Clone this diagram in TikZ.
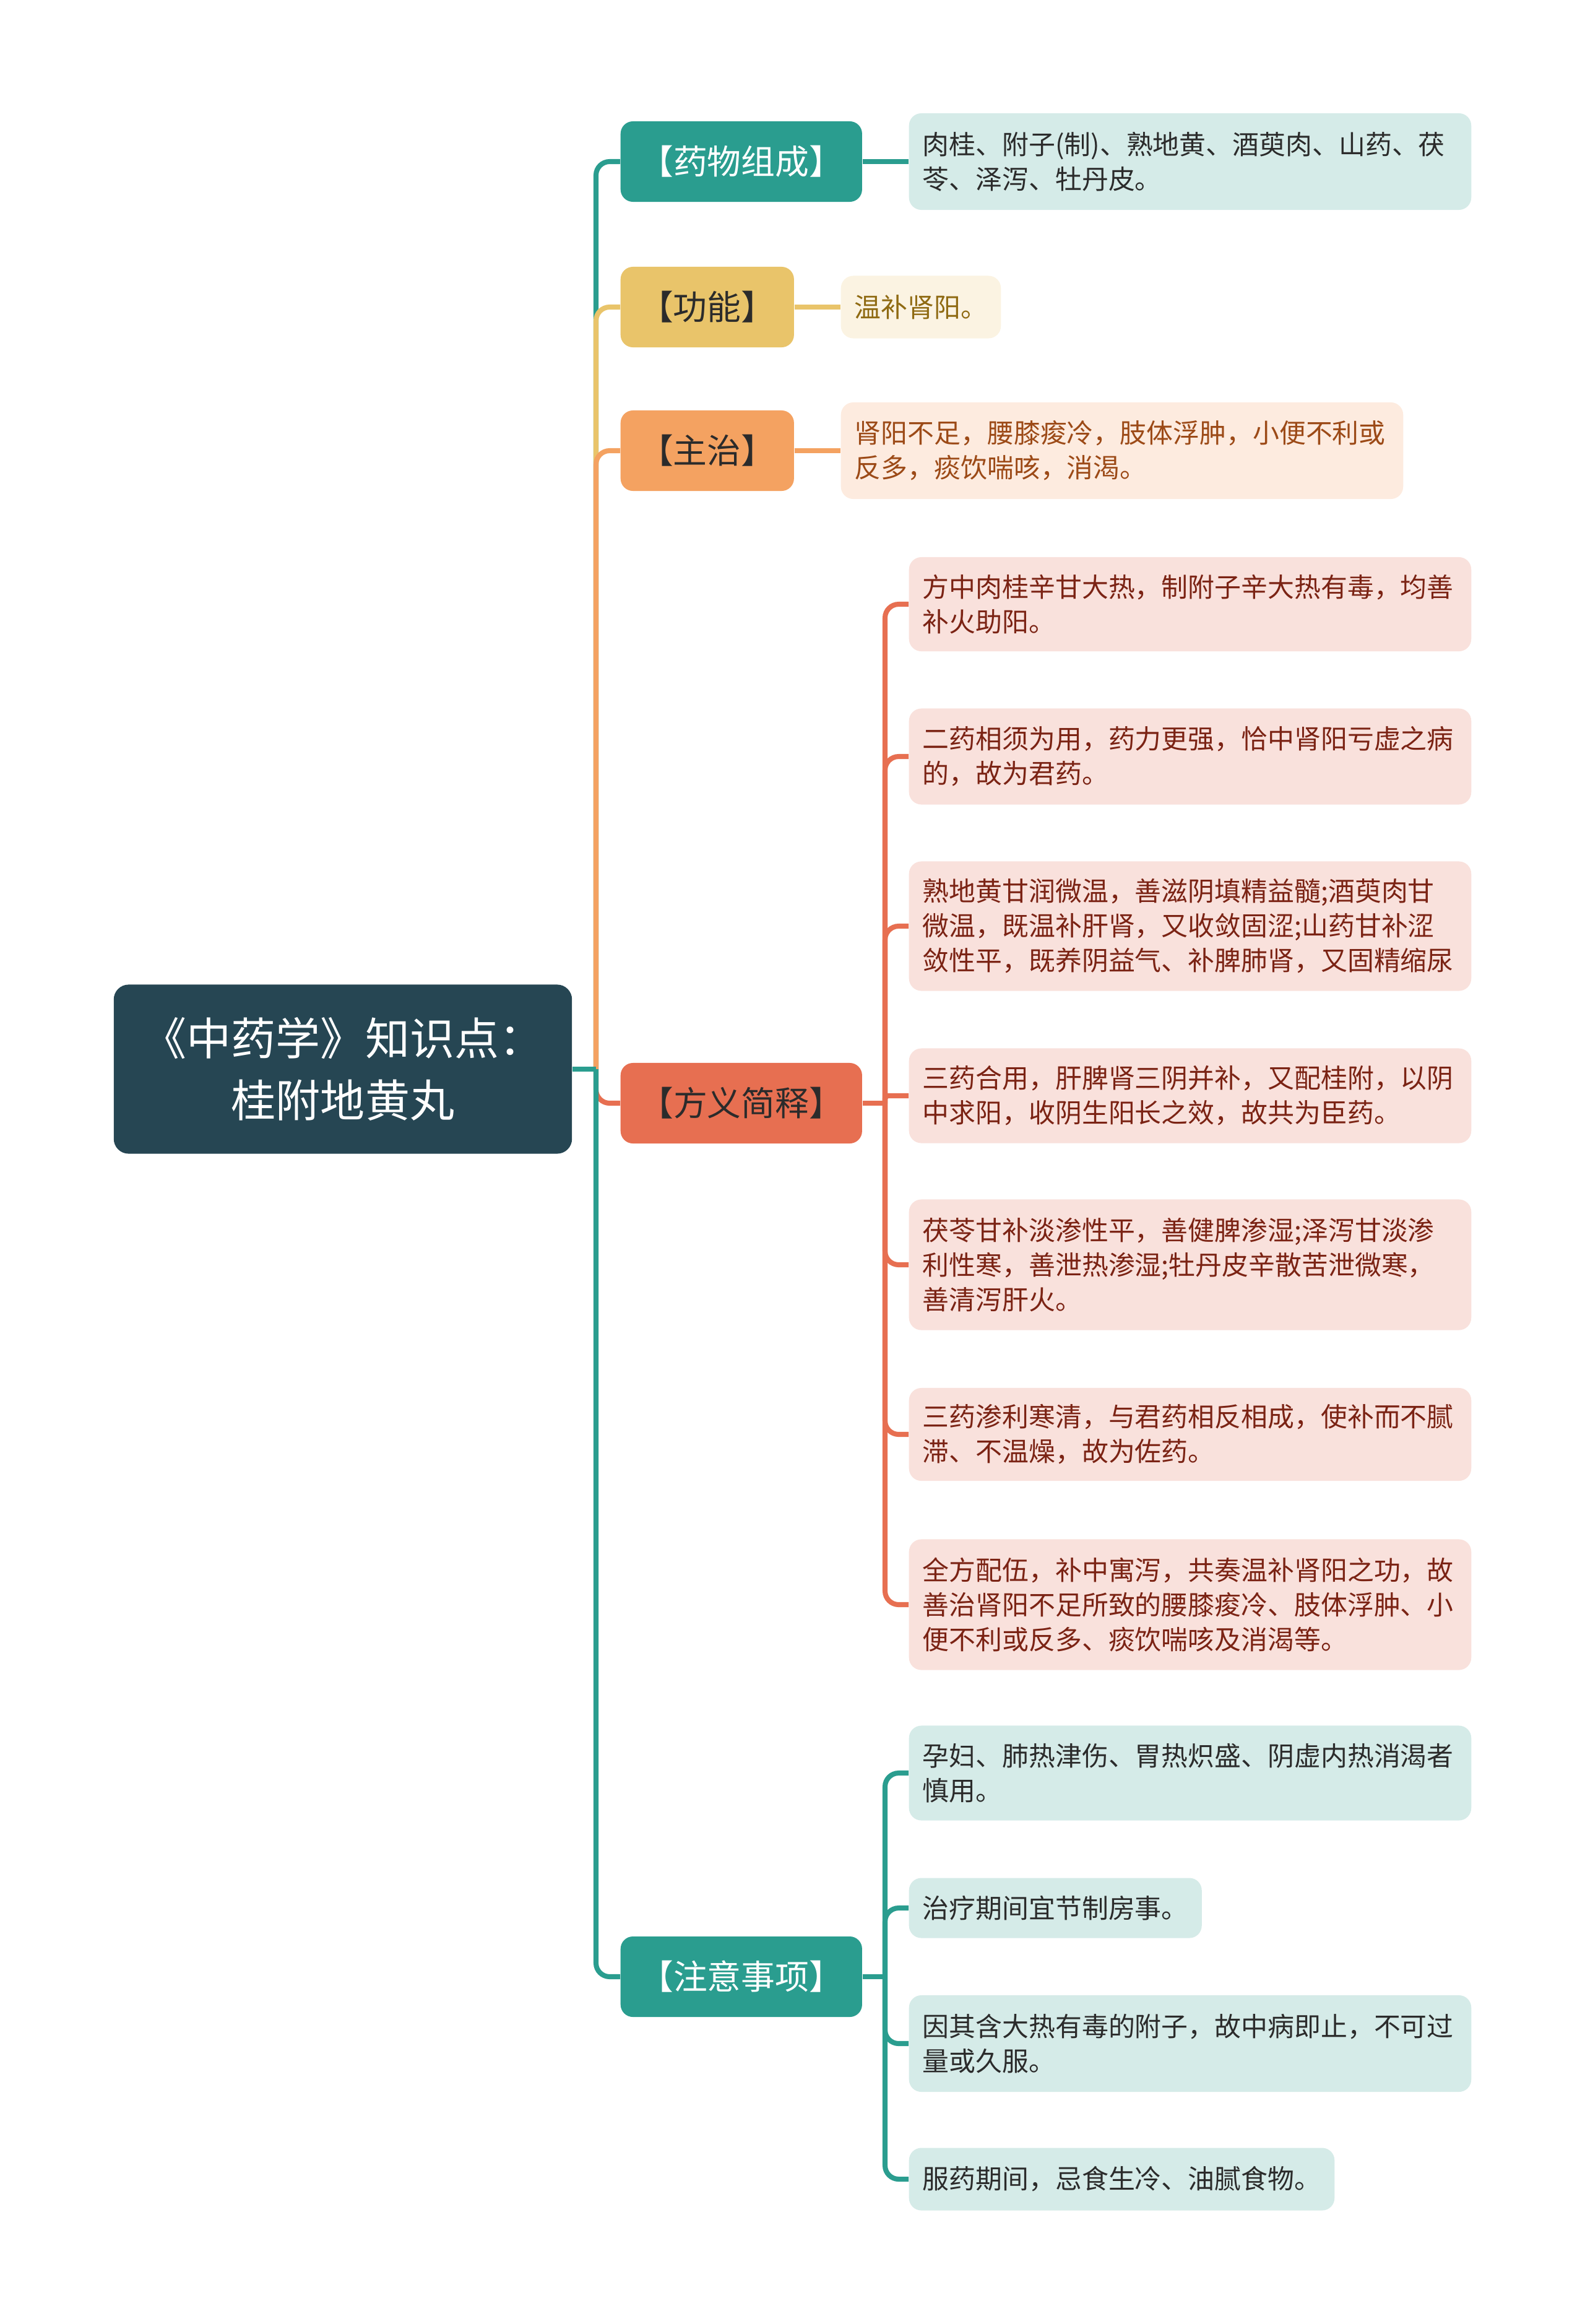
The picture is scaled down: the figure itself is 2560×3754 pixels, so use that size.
\documentclass[tikz,border=0pt]{standalone}
\usepackage{fontspec}
\setmainfont{Noto Sans CJK SC}
\usetikzlibrary{positioning}
\definecolor{rootc}{HTML}{264653}
\definecolor{tealA}{HTML}{2A9D8F}
\definecolor{yelA}{HTML}{E9C46A}
\definecolor{oraA}{HTML}{F4A261}
\definecolor{redA}{HTML}{E76F51}
\definecolor{tealL}{HTML}{D5EBE8}
\definecolor{yelL}{HTML}{FBF3E2}
\definecolor{oraL}{HTML}{FDEBDF}
\definecolor{redL}{HTML}{F9E1DC}
\definecolor{yelT}{HTML}{8F6A12}
\definecolor{oraT}{HTML}{9C4A17}
\definecolor{redT}{HTML}{7B2314}
\definecolor{darkT}{HTML}{2B2B2B}

\begin{document}
\begin{tikzpicture}[x=0.01cm,y=-0.01cm,
  rootbox/.style={fill=rootc,text=white,rounded corners=0.24cm,minimum width=7.4cm,minimum height=2.73cm,align=center,font=\fontsize{20.5pt}{28.5pt}\selectfont},
  branch/.style={anchor=west,rounded corners=0.2cm,minimum height=1.3cm,inner xsep=0pt,font=\fontsize{15.6pt}{20pt}\selectfont},
  leaf/.style={anchor=west,rounded corners=0.2cm,align=left,inner xsep=0.22cm,inner ysep=0pt,font=\fontsize{12.2pt}{15.9pt}\selectfont},
  wide/.style={leaf,text width=8.64cm},
  link/.style={line width=2.3pt,rounded corners=0.22cm}]
\useasboundingbox (0,0) rectangle (2560,3754);

% root
\node[rootbox] (root) at (554,1727) {《中药学》知识点：\\桂附地黄丸};

% first level
\node[branch,fill=tealA,text=white,minimum width=3.9cm] (yaowu) at (1002,261) {【药物组成】};
\node[branch,fill=yelA,text=darkT,minimum width=2.8cm] (gongneng) at (1002,496) {【功能】};
\node[branch,fill=oraA,text=darkT,minimum width=2.8cm] (zhuzhi) at (1002,728) {【主治】};
\node[branch,fill=redA,text=darkT,minimum width=3.9cm] (fangyi) at (1002,1782) {【方义简释】};
\node[branch,fill=tealA,text=white,minimum width=3.9cm] (zhuyi) at (1002,3193) {【注意事项】};

% leaves
\node[wide,fill=tealL,text=darkT,minimum height=1.56cm] (yaowuL) at (1468,261) {肉桂、附子(制)、熟地黄、酒萸肉、山药、茯\\苓、泽泻、牡丹皮。};
\node[leaf,fill=yelL,text=yelT,minimum height=1.01cm] (gongnengL) at (1358,496) {温补肾阳。};
\node[wide,fill=oraL,text=oraT,minimum height=1.56cm] (zhuzhiL) at (1358,728) {肾阳不足，腰膝痠冷，肢体浮肿，小便不利或\\反多，痰饮喘咳，消渴。};

\node[wide,fill=redL,text=redT,minimum height=1.52cm] (f1) at (1468,976) {方中肉桂辛甘大热，制附子辛大热有毒，均善\\补火助阳。};
\node[wide,fill=redL,text=redT,minimum height=1.55cm] (f2) at (1468,1222) {二药相须为用，药力更强，恰中肾阳亏虚之病\\的，故为君药。};
\node[wide,fill=redL,text=redT,minimum height=2.09cm] (f3) at (1468,1496) {熟地黄甘润微温，善滋阴填精益髓;酒萸肉甘\\微温，既温补肝肾，又收敛固涩;山药甘补涩\\敛性平，既养阴益气、补脾肺肾，又固精缩尿};
\node[wide,fill=redL,text=redT,minimum height=1.53cm] (f4) at (1468,1770) {三药合用，肝脾肾三阴并补，又配桂附，以阴\\中求阳，收阴生阳长之效，故共为臣药。};
\node[wide,fill=redL,text=redT,minimum height=2.11cm] (f5) at (1468,2043) {茯苓甘补淡渗性平，善健脾渗湿;泽泻甘淡渗\\利性寒，善泄热渗湿;牡丹皮辛散苦泄微寒，\\善清泻肝火。};
\node[wide,fill=redL,text=redT,minimum height=1.5cm] (f6) at (1468,2317) {三药渗利寒清，与君药相反相成，使补而不腻\\滞、不温燥，故为佐药。};
\node[wide,fill=redL,text=redT,minimum height=2.11cm] (f7) at (1468,2592) {全方配伍，补中寓泻，共奏温补肾阳之功，故\\善治肾阳不足所致的腰膝痠冷、肢体浮肿、小\\便不利或反多、痰饮喘咳及消渴等。};

\node[wide,fill=tealL,text=darkT,minimum height=1.53cm] (z1) at (1468,2864) {孕妇、肺热津伤、胃热炽盛、阴虚内热消渴者\\慎用。};
\node[leaf,fill=tealL,text=darkT,minimum height=0.97cm] (z2) at (1468,3082) {治疗期间宜节制房事。};
\node[wide,fill=tealL,text=darkT,minimum height=1.56cm] (z3) at (1468,3301) {因其含大热有毒的附子，故中病即止，不可过\\量或久服。};
\node[leaf,fill=tealL,text=darkT,minimum height=1.01cm] (z4) at (1468,3520) {服药期间，忌食生冷、油腻食物。};

% connectors
\coordinate (hub) at (963,1727);
\draw[link,tealA] (hub) |- (yaowu.west);
\draw[link,yelA] (hub) |- (gongneng.west);
\draw[link,oraA] (hub) |- (zhuzhi.west);
\draw[link,redA] (hub) |- (fangyi.west);
\draw[link,tealA] (hub) |- (zhuyi.west);
\draw[link,tealA] (root.east) -- (hub);

\draw[link,tealA] (yaowu.east) -- (yaowuL.west);
\draw[link,yelA] (gongneng.east) -- (gongnengL.west);
\draw[link,oraA] (zhuzhi.east) -- (zhuzhiL.west);

\coordinate (fhub) at (1430,1782);
\draw[link,redA] (fangyi.east) -- (fhub);
\foreach \i in {1,2,3,5,6,7}
  \draw[link,redA] (fhub) |- (f\i.west);
\draw[link,redA,rounded corners=0.05cm] (fhub) |- (f4.west);

\coordinate (zhub) at (1430,3193);
\draw[link,tealA] (zhuyi.east) -- (zhub);
\foreach \i in {1,...,4}
  \draw[link,tealA] (zhub) |- (z\i.west);
\end{tikzpicture}
\end{document}
